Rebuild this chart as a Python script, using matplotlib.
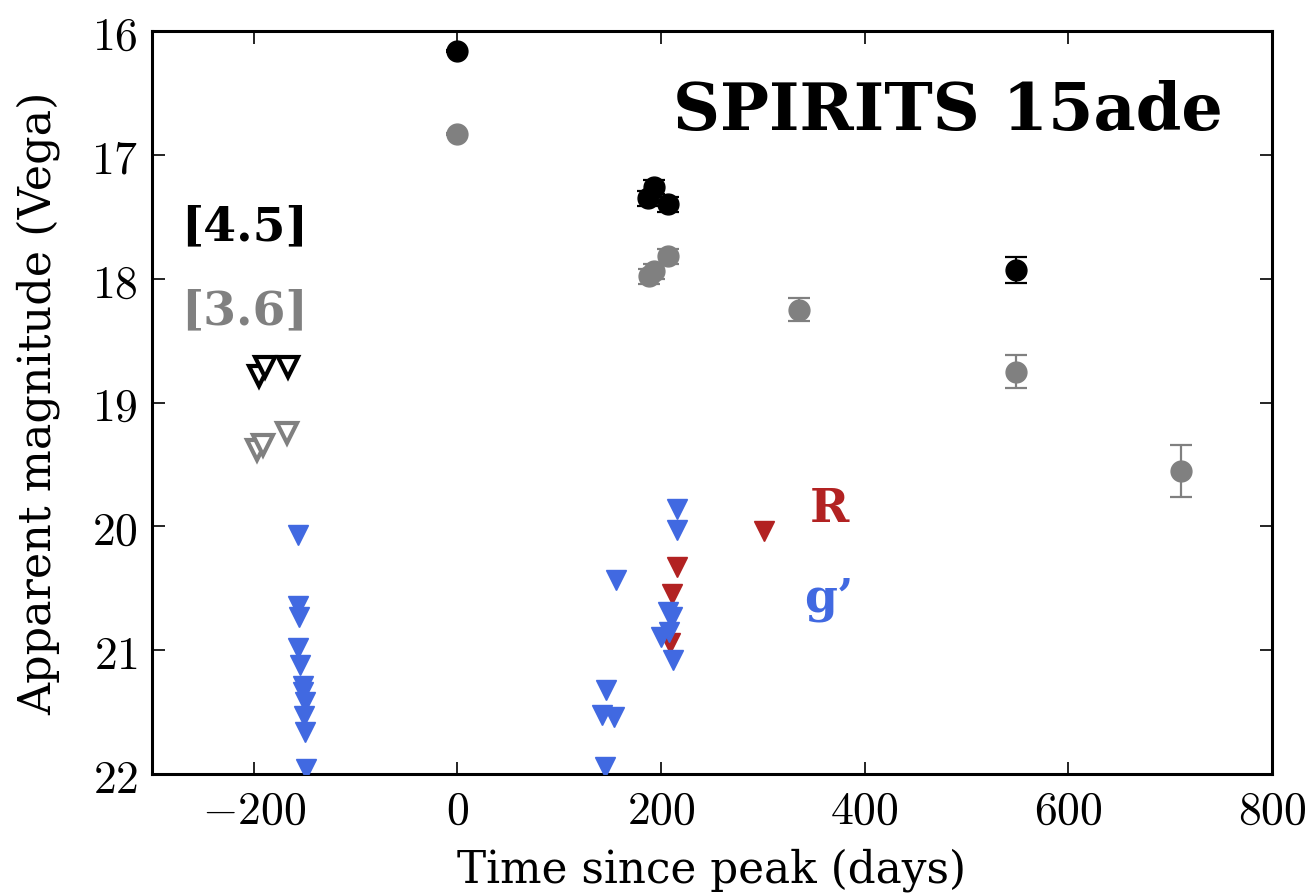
import matplotlib
matplotlib.use("Agg")
import matplotlib.pyplot as plt
from matplotlib.ticker import FixedLocator, FixedFormatter

plt.rcParams['mathtext.fontset'] = 'cm'
plt.rcParams['font.family'] = ['DejaVu Serif']

# ---- data ----
ch2_t = [0, 187, 193, 207, 549]
ch2_mag = [16.16, 17.35, 17.26, 17.40, 17.93]
ch2_err = [0.01, 0.06, 0.06, 0.06, 0.105]

ch1_t = [0, 188, 193, 207, 335, 549, 711]
ch1_mag = [16.83, 17.98, 17.94, 17.82, 18.25, 18.75, 19.55]
ch1_err = [0.01, 0.06, 0.06, 0.06, 0.09, 0.13, 0.21]

ch2_lim_t = [-195, -189, -166]
ch2_lim_mag = [18.79, 18.71, 18.71]
ch1_lim_t = [-197, -191, -167]
ch1_lim_mag = [19.38, 19.34, 19.25]

g_lim_t = [-157, -157, -156, -157, -155, -152, -152, -150, -151, -150, -149,
           156, 146, 142, 154, 145,
           216, 216, 207, 211, 208, 200, 212]
g_lim_mag = [20.07, 20.64, 20.73, 20.98, 21.12, 21.29, 21.34, 21.42, 21.53, 21.66, 21.96,
             20.43, 21.32, 21.52, 21.54, 21.94,
             19.86, 20.03, 20.69, 20.73, 20.85, 20.89, 21.08]

R_lim_t = [216, 211, 209, 301]
R_lim_mag = [20.33, 20.55, 20.94, 20.04]

xticks = [-200, 0, 200, 400, 600, 800]
xtick_labels = ['$-200$', '$0$', '$200$', '$400$', '$600$', '$800$']
yticks = [16, 17, 18, 19, 20, 21, 22]
ytick_labels = ['$16$', '$17$', '$18$', '$19$', '$20$', '$21$', '$22$']

GRAY = '#808080'
BLUE = '#4169E1'
RED = '#B22222'

fig = plt.figure(figsize=(13.14, 8.95), dpi=100)
ax = fig.add_axes([152/1314, 1-775/895, (1272-152)/1314, (775-32)/895])

ms = 15
ax.plot(R_lim_t, R_lim_mag, 'v', color=RED, ms=ms, mec=RED, zorder=3)
ax.plot(g_lim_t, g_lim_mag, 'v', color=BLUE, ms=ms, mec=BLUE, zorder=4)

ax.plot(ch1_lim_t, ch1_lim_mag, 'v', mfc='white', mec=GRAY, mew=3, ms=ms, zorder=5)
ax.plot(ch2_lim_t, ch2_lim_mag, 'v', mfc='white', mec='black', mew=3, ms=ms, zorder=5)

ax.errorbar(ch1_t, ch1_mag, yerr=ch1_err, fmt='o', color=GRAY, ms=15, mec=GRAY,
            elinewidth=1.6, capsize=8, capthick=1.6, zorder=6)
ax.errorbar(ch2_t, ch2_mag, yerr=ch2_err, fmt='o', color='black', ms=15, mec='black',
            elinewidth=1.6, capsize=8, capthick=1.6, zorder=7)

ax.set_xlim(-300, 800)
ax.set_ylim(22, 16)
ax.xaxis.set_major_locator(FixedLocator(xticks))
ax.xaxis.set_major_formatter(FixedFormatter(xtick_labels))
ax.yaxis.set_major_locator(FixedLocator(yticks))
ax.yaxis.set_major_formatter(FixedFormatter(ytick_labels))
ax.tick_params(direction='in', length=9, width=1.2, labelsize=33, top=True, right=True, pad=10)
for s in ax.spines.values():
    s.set_linewidth(2.2)

ax.set_xlabel('Time since peak (days)', fontsize=31.5, labelpad=10)
ax.set_ylabel('Apparent magnitude (Vega)', fontsize=32, labelpad=22)

ax.text(752, 16.79, 'SPIRITS 15ade', fontsize=47, fontweight='bold', ha='right', va='baseline')
ax.text(-209, 17.68, '[4.5]', fontsize=34, fontweight='bold', ha='center', va='baseline', color='black')
ax.text(-209, 18.36, '[3.6]', fontsize=34, fontweight='bold', ha='center', va='baseline', color=GRAY)
ax.text(365, 19.96, 'R', fontsize=34, fontweight='bold', ha='center', va='baseline', color=RED)
ax.text(365, 20.68, 'g\u2019', fontsize=34, fontweight='bold', ha='center', va='baseline', color=BLUE)

fig.savefig('out.png', dpi=100)
